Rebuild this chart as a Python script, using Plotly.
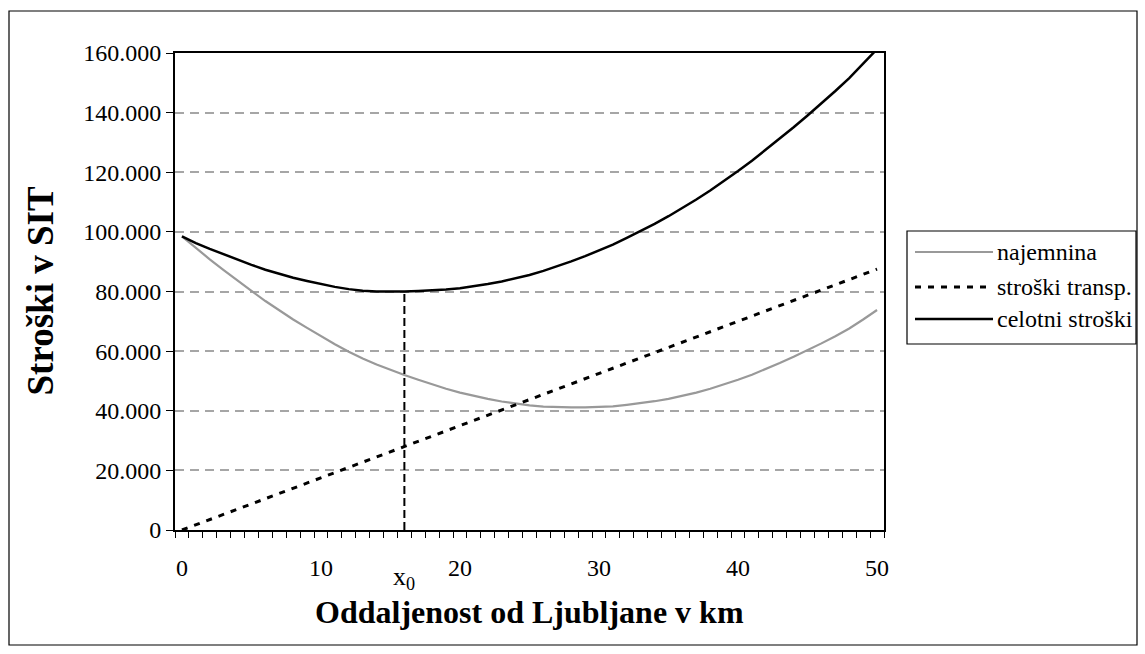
import plotly.graph_objects as go

# ---- data ----
km = list(range(0, 51))
najemnina = [98500, 94500, 90800, 87200, 83600, 80200, 76800, 73600, 70600, 67800,
             65000, 62300, 59800, 57500, 55500, 53700, 52000, 50400, 48800, 47400,
             46100, 45000, 44000, 43100, 42400, 41800, 41400, 41200, 41100, 41100,
             41200, 41500, 42000, 42500, 43200, 44000, 45000, 46100, 47400, 48800,
             50400, 52100, 54000, 56000, 58100, 60300, 62600, 65000, 67600, 70600,
             73800]
stroski_transp = [0, 1750, 3500, 5250, 7000, 8750, 10500, 12250, 14000, 15750,
                  17500, 19250, 21000, 22750, 24500, 26250, 28000, 29750, 31500, 33250,
                  35000, 36750, 38500, 40250, 42000, 43750, 45500, 47250, 49000, 50750,
                  52500, 54250, 56000, 57750, 59500, 61250, 63000, 64750, 66500, 68250,
                  70000, 71750, 73500, 75250, 77000, 78750, 80500, 82250, 84000, 85750,
                  87500]
celotni_stroski = [98500, 96250, 94300, 92450, 90600, 88950, 87300, 85850, 84600, 83550,
                   82500, 81550, 80800, 80250, 80000, 79950, 80000, 80150, 80300, 80650,
                   81100, 81750, 82500, 83350, 84400, 85550, 86900, 88450, 90100, 91850,
                   93700, 95750, 98000, 100250, 102700, 105250, 108000, 110850, 113900, 117050,
                   120400, 123850, 127500, 131250, 135100, 139050, 143100, 147250, 151600, 156350,
                   161300]
x_tick_vals = [0, 10, 20, 30, 40, 50]
y_tick_vals = [0, 20000, 40000, 60000, 80000, 100000, 120000, 140000, 160000]
x0_km = 16
x0_cost = 80000
series_names = ["najemnina", "stroški transp.", "celotni stroški"]

FONT = "Liberation Serif, Times New Roman, serif"
W, H = 1145, 654
L, R, T, B = 175, 884, 53, 530


def px(x):
    return (x - L) / (R - L)


def py(y):
    return (B - y) / (B - T)


fig = go.Figure()
fig.add_trace(go.Scatter(x=km, y=najemnina, mode="lines", name=series_names[0],
                         line=dict(color="#999999", width=2.2), showlegend=False))
fig.add_trace(go.Scatter(x=km, y=stroski_transp, mode="lines", name=series_names[1],
                         line=dict(color="black", width=3, dash="6px,7px"), showlegend=False))
fig.add_trace(go.Scatter(x=km, y=celotni_stroski, mode="lines", name=series_names[2],
                         line=dict(color="black", width=2.5), showlegend=False))
# x0 marker line
fig.add_trace(go.Scatter(x=[x0_km, x0_km], y=[0, x0_cost], mode="lines",
                         line=dict(color="black", width=2, dash="8px,4px"),
                         showlegend=False, hoverinfo="skip"))

fig.update_layout(
    width=W, height=H,
    margin=dict(l=L, r=W - R, t=T, b=H - B, autoexpand=False),
    paper_bgcolor="white", plot_bgcolor="white",
    separators=",.",
    font=dict(family=FONT, size=22, color="black"),
    showlegend=False,
)
fig.update_xaxes(
    range=[-0.5, 50.5], tickmode="array", tickvals=x_tick_vals,
    ticks="outside", ticklen=15, tickcolor="rgba(0,0,0,0)",
    tickfont=dict(family=FONT, size=24),
    minor=dict(tickmode="linear", tick0=-0.5, dtick=1, ticks="outside",
               ticklen=6, tickcolor="black", tickwidth=1, showgrid=False),
    showline=True, linecolor="black", linewidth=2, mirror=True,
    showgrid=False, zeroline=False,
)
fig.update_yaxes(
    range=[0, 160000], tickmode="array", tickvals=y_tick_vals,
    tickformat=",d",
    ticks="outside", ticklen=7, tickcolor="black", tickwidth=1,
    tickfont=dict(family=FONT, size=24),
    showline=True, linecolor="black", linewidth=2, mirror=True,
    showgrid=True, gridcolor="#a6a6a6", gridwidth=1.5, griddash="9px,6px",
    zeroline=False,
)

shapes = []
annotations = []
# outer chart border
shapes.append(dict(type="rect", xref="paper", yref="paper",
                   x0=px(9), x1=px(1137), y0=py(11), y1=py(645),
                   line=dict(color="black", width=1.2), fillcolor="rgba(0,0,0,0)",
                   layer="below"))
# legend box
shapes.append(dict(type="rect", xref="paper", yref="paper",
                   x0=px(907), x1=px(1136), y0=py(231), y1=py(344),
                   line=dict(color="black", width=1.2), fillcolor="white"))
leg_rows = [252, 287, 319]
leg_styles = [dict(color="#999999", width=2.2),
              dict(color="black", width=3, dash="6px,7px"),
              dict(color="black", width=2.5)]
for name, yy, st in zip(series_names, leg_rows, leg_styles):
    shapes.append(dict(type="line", xref="paper", yref="paper",
                       x0=px(915), x1=px(993), y0=py(yy), y1=py(yy), line=st))
    annotations.append(dict(xref="paper", yref="paper", x=px(995), y=py(yy),
                            text=name, showarrow=False, xanchor="left", yanchor="middle",
                            font=dict(family=FONT, size=24)))

# axis titles
annotations.append(dict(xref="paper", yref="paper", x=0.5, y=py(612),
                        text="<b>Oddaljenost od Ljubljane v km</b>", showarrow=False,
                        xanchor="center", yanchor="middle",
                        font=dict(family=FONT, size=32)))
annotations.append(dict(xref="paper", yref="paper", x=px(40), y=0.5,
                        text="<b>Stroški v SIT</b>", showarrow=False, textangle=-90,
                        xanchor="center", yanchor="middle",
                        font=dict(family=FONT, size=37)))
# x0 label
annotations.append(dict(xref="x", yref="paper", x=x0_km, y=py(578),
                        text="x<sub>0</sub>", showarrow=False,
                        xanchor="center", yanchor="middle",
                        font=dict(family=FONT, size=26)))

fig.update_layout(shapes=shapes, annotations=annotations)
fig.write_html("out.html")
